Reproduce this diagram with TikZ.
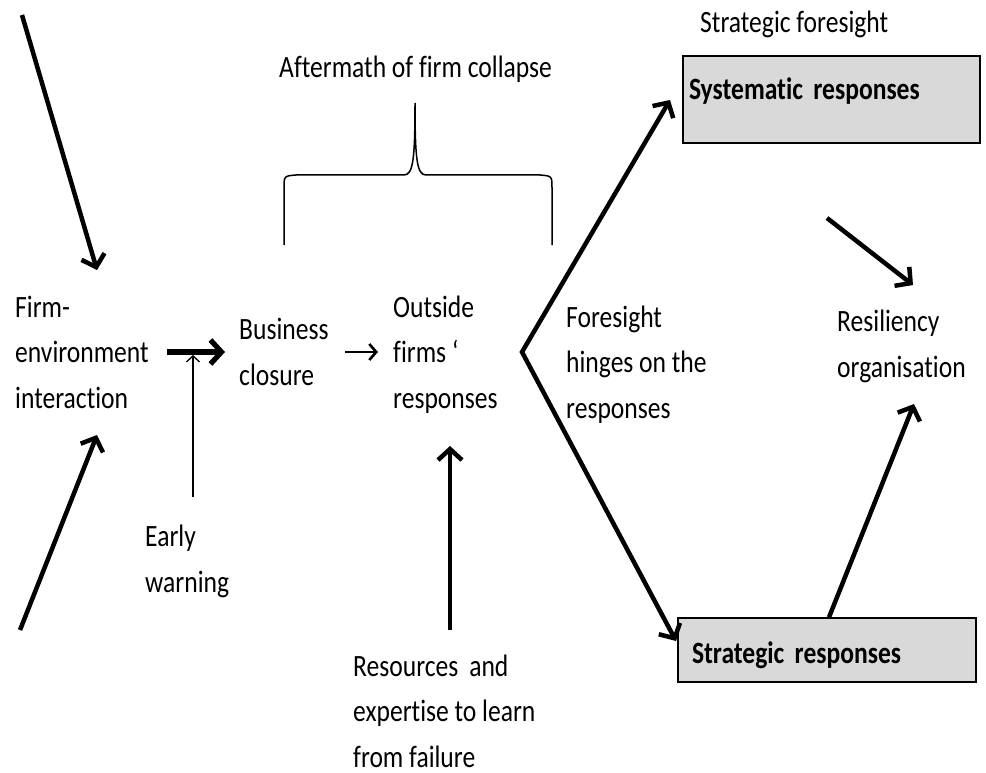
\documentclass[tikz,border=0pt]{standalone}
\usepackage{fontspec}
\setmainfont{Carlito}[FakeStretch=0.825, Ligatures=NoCommon]
\usetikzlibrary{arrows.meta}
\newcommand\respfont{\fontsize{31}{45.5}\selectfont\bfseries\spaceskip=7pt\relax}

\begin{document}
\begin{tikzpicture}[x=1pt,y=-1pt]
	
	\tikzset{txt/.style={anchor=base west, inner sep=0pt, align=left, font=\fontsize{31}{45.5}\selectfont}}
	\tikzset{bigarrow/.style={line width=4.5pt, -{Straight Barb[length=11pt,width=24pt]}}}
	\tikzset{midarrow/.style={line width=2.6pt, -{Straight Barb[length=7pt,width=16pt]}}}
	\tikzset{thinarrow/.style={line width=1.3pt, -{Straight Barb[length=6pt,width=13pt]}}}
	\tikzset{respbox/.style={draw, line width=1.4pt, fill=black!15, align=left, font=\respfont}}
	
	\useasboundingbox (0,0) rectangle (986,773);
	
	\node[txt] (firm) at (15,408) {Firm-\\environment\\interaction};
	\node[txt] (closure) at (239,385) {Business\\closure};
	\node[txt] (outside) at (393,408) {Outside\\firms ‘\\responses};
	\node[txt] (early) at (145,592) {Early\\warning};
	\node[txt] (resources) at (353,767) {Resources\, and\\expertise to learn\\from failure};
	\node[txt] (aftermath) at (279,78) {Aftermath of firm collapse};
	\node[txt] (foresight) at (566,418) {Foresight\\hinges on the\\responses};
	\node[txt] (stratfore) at (700,33) {Strategic foresight};
	\node[txt] (resil) at (837,377) {Resiliency\\organisation};
	
	\node[respbox, minimum width=297pt, minimum height=87pt, text width=285pt, inner xsep=6pt, text height=21pt, text depth=21pt] (sysresp) at (831.5,99.5) {Systematic responses};
	\node[respbox, minimum width=298pt, minimum height=64pt, text width=270pt, inner xsep=14pt, text height=30pt, text depth=4pt] (stratresp) at (827,650) {Strategic responses};
	
	\coordinate (topin) at (22,15);
	\coordinate (topinend) at (97,270);
	\coordinate (botin) at (20,630);
	\coordinate (botinend) at (97,435);
	\draw[bigarrow] (topin) -- (topinend);
	\draw[bigarrow] (botin) -- (botinend);
	
	\coordinate (firmout) at (167,352);
	\coordinate (closurein) at (225,352);
	\draw[bigarrow, line width=5.2pt] (firmout) -- (closurein);
	
	\coordinate (earlyout) at (193,497);
	\coordinate (earlyend) at (193,355);
	\draw[thinarrow] (earlyout) -- (earlyend);
	
	\coordinate (closureout) at (345,352);
	\coordinate (outsidein) at (378,352);
	\draw[midarrow] (closureout) -- (outsidein);
	
	\coordinate (resout) at (450,630);
	\coordinate (resend) at (450,446);
	\draw[bigarrow] (resout) -- (resend);
	
	\draw[line width=1.5pt] (284,245) -- (284,188) .. controls (284,176) .. (296,175) -- (404,175) .. controls (413,175) and (415,160) .. (415,103) .. controls (415,160) and (417,175) .. (426,175) -- (540,175) .. controls (552,176) .. (552,188) -- (552,245);
	
	\coordinate (fork) at (522,352);
	\coordinate (sysin) at (670,100);
	\coordinate (stratin) at (676,641);
	\draw[bigarrow, {Straight Barb[length=11pt,width=24pt]}-{Straight Barb[length=11pt,width=24pt]}] (sysin) -- (fork) -- (stratin);
	
	\coordinate (sysout) at (827,218);
	\coordinate (resilin) at (913,285);
	\draw[bigarrow] (sysout) -- (resilin);
	
	\coordinate (resilbot) at (914,404);
	\draw[bigarrow] (stratresp.north -| 829,0) -- (resilbot);
	
\end{tikzpicture}
\end{document}
